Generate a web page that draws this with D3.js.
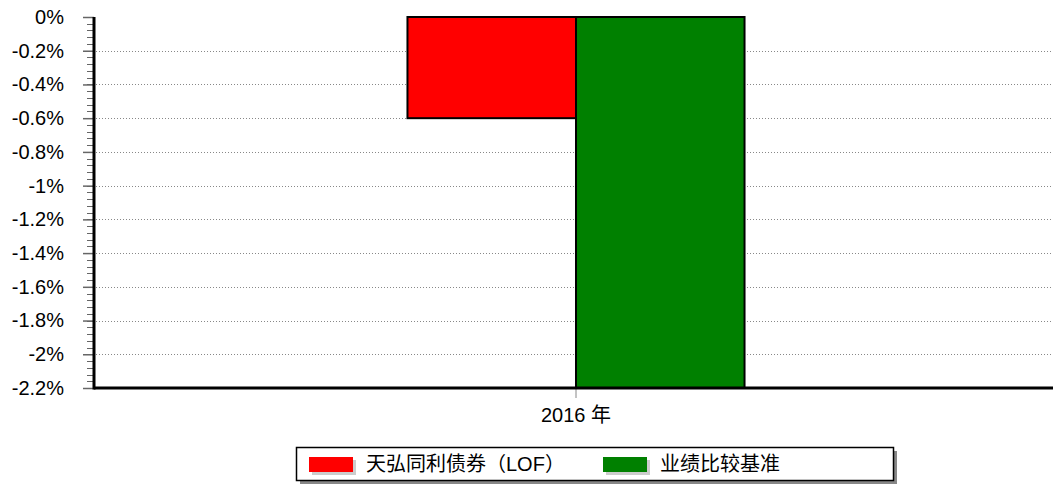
<!DOCTYPE html>
<html lang="zh">
<head>
<meta charset="UTF-8">
<title>bar</title>
<style>
    body { margin: 0; padding: 0; background: white; }
    text { font-family: "Liberation Sans", Arial, "Noto Sans CJK SC", sans-serif; font-size: 20px; fill: #000; }
</style>
</head>
<body>
<script src="https://cdn.jsdelivr.net/npm/d3@7/dist/d3.min.js"></script>
<script>
    var categories = ['2016 年'];
    var seriesNames = ['天弘同利债券（LOF）', '业绩比较基准'];
    var seriesColors = ['#ff0000', '#008000'];
    var fundValues = [-0.6];
    var benchValues = [-2.2];
    var yTicks = [0, -0.2, -0.4, -0.6, -0.8, -1, -1.2, -1.4, -1.6, -1.8, -2, -2.2];
    var yTickLabels = ['0%', '-0.2%', '-0.4%', '-0.6%', '-0.8%', '-1%', '-1.2%', '-1.4%', '-1.6%', '-1.8%', '-2%', '-2.2%'];

    var W = 1053, H = 485;
    var plotLeft = 94, plotRight = 1058, plotTop = 17, plotBottom = 388;

    var svg = d3.select('body').append('svg')
        .attr('width', W).attr('height', H);

    var y = d3.scaleLinear().domain([-2.2, 0]).range([plotBottom, plotTop]);
    var x0 = d3.scaleBand().domain(categories).range([plotLeft, plotRight]).paddingInner(0).paddingOuter(0.93);
    var x1 = d3.scaleBand().domain([0, 1]).range([0, x0.bandwidth()]);

    // grid
    svg.append('g').selectAll('line')
        .data(yTicks.filter(function(d) { return d !== 0 && d !== -2.2; }))
        .enter().append('line')
        .attr('x1', plotLeft + 2).attr('x2', W)
        .attr('y1', function(d) { return Math.round(y(d)) + 0.5; })
        .attr('y2', function(d) { return Math.round(y(d)) + 0.5; })
        .attr('stroke', '#888').attr('stroke-dasharray', '1,2');

    // minor ticks
    var minor = d3.range(0, 56).map(function(i) { return -i * 0.04; });
    svg.append('g').selectAll('line')
        .data(minor)
        .enter().append('line')
        .attr('x1', plotLeft - 7).attr('x2', plotLeft)
        .attr('y1', function(d) { return Math.round(y(d)) + 0.5; })
        .attr('y2', function(d) { return Math.round(y(d)) + 0.5; })
        .attr('stroke', '#666');

    // y axis
    var yAxis = d3.axisLeft(y).tickValues(yTicks).tickSize(11).tickPadding(19)
        .tickFormat(function(d, i) { return yTickLabels[i]; });
    var gy = svg.append('g').attr('transform', 'translate(' + plotLeft + ',0)').call(yAxis);
    gy.select('.domain').remove();
    gy.selectAll('.tick line').attr('stroke', '#666').attr('stroke-width', 1.5);
    gy.selectAll('text').style('font-size', '20px').attr('fill', '#000');

    var data = categories.map(function(c, i) { return [fundValues[i], benchValues[i]]; });

    var groups = svg.selectAll('g.cat').data(data).enter().append('g')
        .attr('class', 'cat')
        .attr('transform', function(d, i) { return 'translate(' + x0(categories[i]) + ',0)'; });

    groups.selectAll('rect').data(function(d) { return d; }).enter().append('rect')
        .attr('x', function(d, i) { return x1(i); })
        .attr('y', function(d) { return y(0); })
        .attr('width', x1.bandwidth())
        .attr('height', function(d) { return y(d) - y(0); })
        .attr('fill', function(d, i) { return seriesColors[i]; })
        .attr('stroke', '#000').attr('stroke-width', 2);

    // x axis
    var xAxis = d3.axisBottom(x0).tickSize(10).tickPadding(10);
    var gx = svg.append('g').attr('transform', 'translate(0,' + plotBottom + ')').call(xAxis);
    gx.select('.domain').remove();
    gx.selectAll('.tick line').attr('stroke', '#888');
    gx.selectAll('text').style('font-size', '20px').attr('fill', '#000');

    svg.append('line').attr('x1', plotLeft).attr('x2', W).attr('y1', plotBottom).attr('y2', plotBottom)
        .attr('stroke', '#000').attr('stroke-width', 3);
    svg.append('line').attr('x1', plotLeft).attr('x2', plotLeft).attr('y1', plotTop).attr('y2', plotBottom + 1.5)
        .attr('stroke', '#000').attr('stroke-width', 3);

    // legend
    var lg = svg.append('g');
    lg.append('rect').attr('x', 300).attr('y', 451).attr('width', 597).attr('height', 33).attr('fill', '#888');
    lg.append('rect').attr('x', 296.5).attr('y', 447.5).attr('width', 597).attr('height', 33)
        .attr('fill', '#fff').attr('stroke', '#000').attr('stroke-width', 1.5);
    var itemX = [309, 603];
    seriesNames.forEach(function(name, i) {
        lg.append('rect').attr('x', itemX[i] + 3).attr('y', 460).attr('width', 44).attr('height', 15).attr('fill', '#ccc');
        lg.append('rect').attr('x', itemX[i]).attr('y', 457).attr('width', 44).attr('height', 15).attr('fill', seriesColors[i]);
        lg.append('text').attr('x', itemX[i] + 57).attr('y', 471).text(name);
    });
</script>
</body>
</html>
